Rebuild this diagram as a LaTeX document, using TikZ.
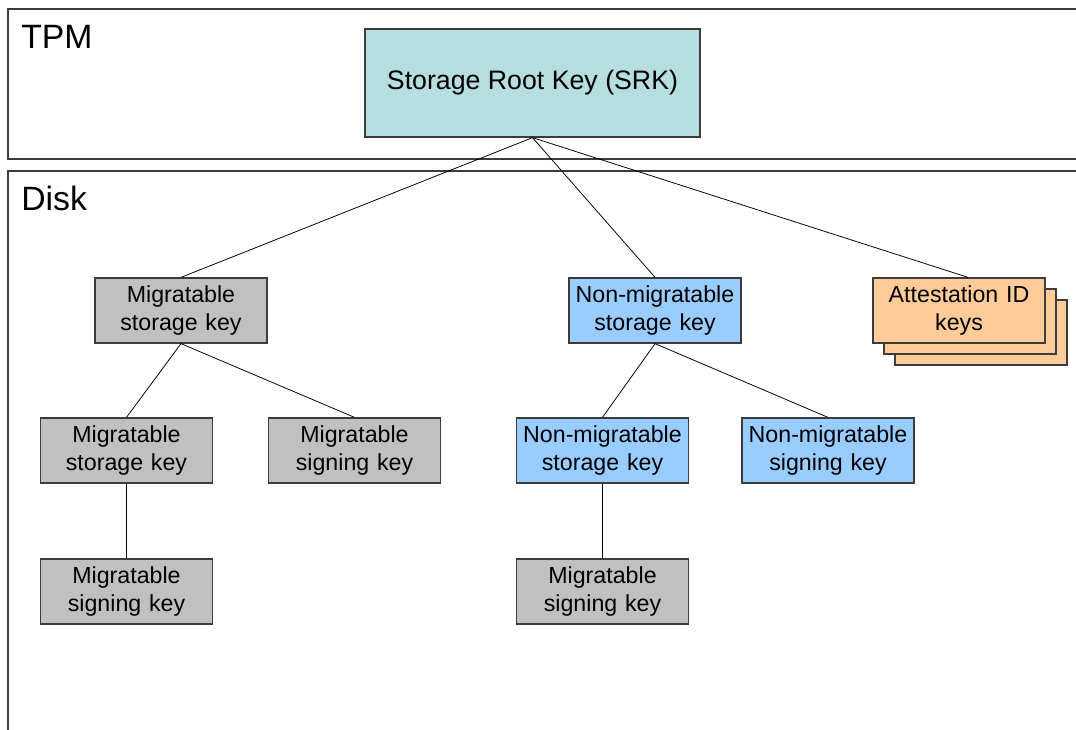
\documentclass[tikz,border=0pt]{standalone}
\usepackage{fontspec}
\setmainfont{Liberation Sans}
\usetikzlibrary{positioning}

\definecolor{srkfill}{RGB}{182,221,224}
\definecolor{migfill}{RGB}{192,192,192}
\definecolor{nonmigfill}{RGB}{153,204,255}
\definecolor{attfill}{RGB}{255,204,153}
\definecolor{frameline}{RGB}{60,60,60}

\begin{document}
\begin{tikzpicture}[x=0.025cm, y=-0.025cm,
    key/.style={rectangle, draw=frameline, line width=0.9pt, text width=4.2cm, align=center,
        minimum width=4.3cm, minimum height=1.625cm, inner sep=0pt,
        font=\fontsize{16.5}{19.5}\selectfont},
    migkey/.style={key, fill=migfill},
    nonmigkey/.style={key, fill=nonmigfill},
    attkey/.style={key, fill=attfill},
    root/.style={rectangle, draw=frameline, line width=0.9pt, fill=srkfill,
        minimum width=8.375cm, minimum height=2.7cm, inner sep=0pt,
        font=\fontsize{19}{23}\selectfont},
    area/.style={frameline, line width=0.9pt},
    arealabel/.style={anchor=base west, inner sep=0pt, font=\fontsize{24}{28}\selectfont},
    link/.style={black, line width=0.55pt}]

\useasboundingbox[fill=white] (0,0) rectangle (1076,729);
\clip (0,0) rectangle (1076,729);

% Areas
\draw[area] (1090,9) -- (8,9) -- (8,159) -- (1090,159);
\draw[area] (1090,171) -- (8,171) -- (8,740);

% Labels
\node[arealabel] (tpm) at (21,49) {TPM};
\node[arealabel] (disk) at (21,210) {Disk};

% Blocks
\node[root] (srk) at (532.5,83) {Storage Root Key (SRK)};

\node[migkey] (migstore) at (181,310.5) {Migratable\\storage key};
\node[nonmigkey] (nonmigstore) at (655,310.5) {Non-migratable\\storage key};
\node[attkey] (att3) at (981,332.5) {};
\node[attkey] (att2) at (970,321.5) {};
\node[attkey] (att) at (959,310.5) {Attestation ID\\keys};

\node[migkey] (migstoreb) at (126.5,450.5) {Migratable\\storage key};
\node[migkey] (migsign) at (354.5,450.5) {Migratable\\signing key};
\node[nonmigkey] (nonmigstoreb) at (602.5,450.5) {Non-migratable\\storage key};
\node[nonmigkey] (nonmigsign) at (828,450.5) {Non-migratable\\signing key};

\node[migkey] (migsignb) at (126.5,591.5) {Migratable\\signing key};
\node[migkey] (migsignc) at (602.5,591.5) {Migratable\\signing key};

% Connections
\draw[link] (srk.south) -- (migstore.north);
\draw[link] (srk.south) -- (nonmigstore.north);
\draw[link] (srk.south) -- ([xshift=0.225cm]att.north);
\draw[link] (migstore.south) -- (migstoreb.north);
\draw[link] (migstore.south) -- (migsign.north);
\draw[link] (nonmigstore.south) -- (nonmigstoreb.north);
\draw[link] (nonmigstore.south) -- (nonmigsign.north);
\draw[link] (migstoreb.south) -- (migsignb.north);
\draw[link] (nonmigstoreb.south) -- (migsignc.north);
\end{tikzpicture}
\end{document}
